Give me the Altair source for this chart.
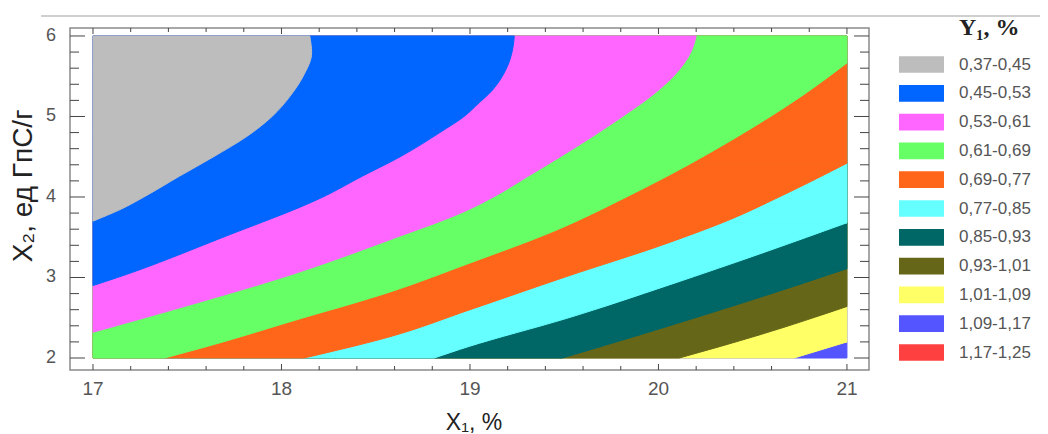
import altair as alt
import pandas as pd

# ---- legend / bands ----
band_labels = ["0,37-0,45", "0,45-0,53", "0,53-0,61", "0,61-0,69", "0,69-0,77",
               "0,77-0,85", "0,85-0,93", "0,93-1,01", "1,01-1,09", "1,09-1,17", "1,17-1,25"]
band_colors = ["#bdbdbd", "#0066ff", "#ff66ff", "#66ff66", "#ff6619",
               "#66ffff", "#006666", "#666619", "#ffff66", "#5555ff", "#ff4040"]

# ---- right-hand edge (X1) of each band as a function of X2 ----
# (an edge that leaves through the right border ends at X1 = 21; the band then fills
#  the full width above that point)
gray_edge_y = [3.70, 3.85, 4.0, 4.26, 4.5, 4.75, 5.0, 5.25, 5.5, 5.79, 6.0]
gray_edge_x = [17.0, 17.15, 17.27, 17.46, 17.64, 17.815, 17.95, 18.045, 18.115, 18.16, 18.15]

blue_edge_y = [2.90, 3.0, 3.5, 4.0, 4.26, 4.5, 4.8, 5.02, 5.13, 5.33, 5.58, 5.83, 6.0]
blue_edge_x = [17.0, 17.13, 17.69, 18.22, 18.43, 18.63, 18.84, 18.98, 19.03, 19.12, 19.19, 19.226, 19.235]

magenta_edge_y = [2.32, 2.66, 3.03, 3.47, 3.83, 4.02, 4.26, 4.5, 4.75, 5.0, 5.25, 5.5, 5.79, 6.0]
magenta_edge_x = [17.0, 17.515, 18.045, 18.576, 18.98, 19.14, 19.31, 19.48, 19.65, 19.81, 19.96, 20.08, 20.17, 20.20]

green_edge_y = [2.0, 2.2, 2.45, 2.82, 3.18, 3.57, 4.0, 4.3, 4.75, 5.27, 5.665]
green_edge_x = [17.38, 17.69, 18.045, 18.576, 19.0, 19.44, 19.83, 20.08, 20.42, 20.77, 21.0]

orange_edge_y = [2.0, 2.265, 2.6, 3.01, 3.42, 3.73, 4.0, 4.42]
orange_edge_x = [18.12, 18.576, 19.0, 19.51, 20.04, 20.39, 20.64, 21.0]

cyan_edge_y = [2.0, 2.14, 2.49, 2.91, 3.32, 3.68]
cyan_edge_x = [18.81, 18.99, 19.51, 20.06, 20.57, 21.0]

teal_edge_y = [2.0, 2.38, 2.77, 3.11]
teal_edge_x = [19.49, 20.03, 20.56, 21.0]

olive_edge_y = [2.0, 2.29, 2.64]
olive_edge_x = [20.11, 20.54, 21.0]

yellow_edge_y = [2.0, 2.20]
yellow_edge_x = [20.72, 21.0]

violet_edge_y = [2.0, 6.0]
violet_edge_x = [21.0, 21.0]

# ---- axis ticks ----
x_major = [17, 18, 19, 20, 21]
x_minor = [17.2, 17.4, 17.6, 17.8, 18.2, 18.4, 18.6, 18.8,
           19.2, 19.4, 19.6, 19.8, 20.2, 20.4, 20.6, 20.8]
y_major = [2, 3, 4, 5, 6]
y_minor = [2.2, 2.4, 2.6, 2.8, 3.2, 3.4, 3.6, 3.8,
           4.2, 4.4, 4.6, 4.8, 5.2, 5.4, 5.6, 5.8]

x_title = "X₁, %"
y_title = "X₂, ед ГпС/г"
legend_title = "Y₁, %"

X_MIN, X_MAX = 17.0, 21.0
Y_MAX = 6.0
W, H = 799, 342
X_DOM = [16.878, 21.117]
Y_DOM = [1.851, 6.099]

FONT = "Liberation Sans"
xs = alt.Scale(domain=X_DOM, nice=False, zero=False)
ys = alt.Scale(domain=Y_DOM, nice=False, zero=False)
color_scale = alt.Scale(domain=band_labels, range=band_colors)

legend = alt.Legend(
    title=None, orient="none", legendX=843, legendY=28,
    symbolType="M-2.7,-1H2.7V1H-2.7Z", symbolSize=278, symbolStrokeWidth=0,
    symbolOpacity=1, labelOffset=29, rowPadding=10.8, padding=0,
    labelFont=FONT, labelFontSize=17, labelColor="#555",
)

paint_order = [
    (9, violet_edge_y, violet_edge_x),
    (8, yellow_edge_y, yellow_edge_x),
    (7, olive_edge_y, olive_edge_x),
    (6, teal_edge_y, teal_edge_x),
    (5, cyan_edge_y, cyan_edge_x),
    (4, orange_edge_y, orange_edge_x),
    (3, green_edge_y, green_edge_x),
    (2, magenta_edge_y, magenta_edge_x),
    (1, blue_edge_y, blue_edge_x),
    (0, gray_edge_y, gray_edge_x),
]

def band_color(field="band:N"):
    return alt.Color(field, scale=color_scale, legend=legend)

def band_stroke(field="band:N"):
    return alt.Stroke(field, scale=color_scale, legend=None)

layers = []
for idx, ey, ex in paint_order:
    label = band_labels[idx]
    df = pd.DataFrame({"ypos": ey, "xend": ex, "xstart": [X_MIN] * len(ey),
                       "band": [label] * len(ey)})
    # full-width part above the point where the edge leaves through the right border
    if ex[-1] >= X_MAX and ey[-1] < Y_MAX:
        top = pd.DataFrame({"ylo": [ey[-1]], "yhi": [Y_MAX], "xlo": [X_MIN],
                            "xhi": [X_MAX], "band": [label]})
        layers.append(
            alt.Chart(top).mark_rect(strokeWidth=1).encode(
                x=alt.X("xlo:Q", scale=xs, axis=None), x2=alt.X2("xhi"),
                y=alt.Y("ylo:Q", scale=ys, axis=None), y2=alt.Y2("yhi"),
                color=band_color(), stroke=band_stroke(),
            )
        )
    layers.append(
        alt.Chart(df).mark_area(orient="horizontal", opacity=1, interpolate="monotone",
                                strokeWidth=1).encode(
            y=alt.Y("ypos:Q", scale=ys, axis=None),
            x=alt.X("xend:Q", scale=xs, axis=None, stack=None),
            x2=alt.X2("xstart"),
            color=band_color(), stroke=band_stroke(),
        )
    )

TICK = "#444"
xmaj_df = pd.DataFrame({"xv": x_major})
ymaj_df = pd.DataFrame({"yv": y_major})
xmin_df = pd.DataFrame({"xv": x_minor})
ymin_df = pd.DataFrame({"yv": y_minor})

def rule(df, **enc):
    return alt.Chart(df).mark_rule(color=TICK, strokeWidth=1).encode(**enc)

# inward ticks on all four sides
layers.append(rule(xmaj_df, x=alt.X("xv:Q", scale=xs, axis=None), y=alt.value(H), y2=alt.value(H - 6)))
layers.append(rule(xmaj_df, x=alt.X("xv:Q", scale=xs, axis=None), y=alt.value(0), y2=alt.value(6)))
layers.append(rule(xmin_df, x=alt.X("xv:Q", scale=xs, axis=None), y=alt.value(H), y2=alt.value(H - 4)))
layers.append(rule(xmin_df, x=alt.X("xv:Q", scale=xs, axis=None), y=alt.value(0), y2=alt.value(4)))
layers.append(rule(ymaj_df, y=alt.Y("yv:Q", scale=ys, axis=None), x=alt.value(0), x2=alt.value(15)))
layers.append(rule(ymaj_df, y=alt.Y("yv:Q", scale=ys, axis=None), x=alt.value(W), x2=alt.value(W - 15)))
layers.append(rule(ymin_df, y=alt.Y("yv:Q", scale=ys, axis=None), x=alt.value(0), x2=alt.value(9)))
layers.append(rule(ymin_df, y=alt.Y("yv:Q", scale=ys, axis=None), x=alt.value(W), x2=alt.value(W - 9)))

# tick labels
layers.append(alt.Chart(xmaj_df).mark_text(font=FONT, fontSize=19, color="#555",
                                           align="center", baseline="alphabetic").encode(
    x=alt.X("xv:Q", scale=xs, axis=None), y=alt.value(367), text=alt.Text("xv:Q", format="d")))
layers.append(alt.Chart(ymaj_df).mark_text(font=FONT, fontSize=18, color="#555",
                                           align="right", baseline="middle").encode(
    y=alt.Y("yv:Q", scale=ys, axis=None), x=alt.value(-14), text=alt.Text("yv:Q", format="d")))

# axis titles
one = pd.DataFrame({"a": [0]})
layers.append(alt.Chart(one).mark_text(font=FONT, fontSize=23, color="#222",
                                       align="center", baseline="alphabetic").encode(
    x=alt.value(404), y=alt.value(402), text=alt.value(x_title)))
layers.append(alt.Chart(one).mark_text(font=FONT, fontSize=28, color="#222", angle=270,
                                       align="center", baseline="alphabetic").encode(
    x=alt.value(-38), y=alt.value(158), text=alt.value(y_title)))

# legend title
layers.append(alt.Chart(one).mark_text(font="Liberation Serif", fontSize=24, fontWeight="bold",
                                       color="#222", align="left", baseline="alphabetic").encode(
    x=alt.value(889), y=alt.value(7), text=alt.value(legend_title)))

# thin grey line across the top of the picture
layers.append(alt.Chart(one).mark_rule(color="#cfcfcf", strokeWidth=2).encode(
    x=alt.value(-29), x2=alt.value(975), y=alt.value(-12)))

chart = alt.layer(*layers).properties(
    width=W, height=H,
    autosize=alt.AutoSizeParams(type="none"),
    padding={"left": 62, "top": 20, "right": 171, "bottom": 64},
    background="white",
).configure_view(stroke="#8a8a8a", strokeWidth=1.5)

chart.save("out.html", embed_options={"renderer": "svg", "actions": False})
